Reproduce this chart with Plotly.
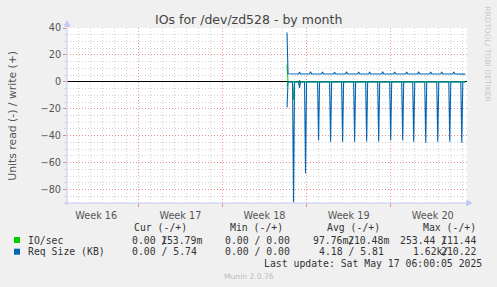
import plotly.graph_objects as go
import pandas as pd

# ---------------- data ----------------
TITLE = "IOs for /dev/zd528 - by month"
Y_TITLE = "Units read (-) / write (+)"

X_START = "2025-04-14 01:40"
X_END = "2025-05-17 08:24"

WEEK_BOUNDS = ["2025-04-20", "2025-04-27", "2025-05-04", "2025-05-11"]
WEEK_MIDS = ["2025-04-16 12:00", "2025-04-23 12:00", "2025-04-30 12:00",
             "2025-05-07 12:00", "2025-05-14 12:00"]
WEEK_LABELS = ["Week 16", "Week 17", "Week 18", "Week 19", "Week 20"]

Y_TICKS = [-80, -60, -40, -20, 0, 20, 40]

# IO/sec write (+)
IO_W_T = ["2025-05-02 09:00", "2025-05-02 11:00", "2025-05-03 08:00",
          "2025-05-03 10:00", "2025-05-03 12:00", "2025-05-17 05:00"]
IO_W_V = [13.0, 0.15, 0.15, 1.2, 0.15, 0.15]

# IO/sec read (-)
IO_R_T = ["2025-05-02 09:00", "2025-05-02 11:00", "2025-05-02 20:00",
          "2025-05-02 22:00", "2025-05-03 00:00", "2025-05-03 08:00",
          "2025-05-03 10:00", "2025-05-03 12:00", "2025-05-17 05:00"]
IO_R_V = [-3.3, 0, 0, -13.0, 0, 0, -2.0, 0, 0]

# Req Size (KB) write (+)
RS_W_T = ["2025-05-02 09:00", "2025-05-02 11:00",
          "2025-05-03 08:00", "2025-05-03 10:00", "2025-05-03 12:00",
          "2025-05-04 06:00", "2025-05-04 08:00", "2025-05-04 10:00",
          "2025-05-05 06:00", "2025-05-05 08:00", "2025-05-05 10:00",
          "2025-05-06 06:00", "2025-05-06 08:00", "2025-05-06 10:00",
          "2025-05-07 06:00", "2025-05-07 08:00", "2025-05-07 10:00",
          "2025-05-08 06:00", "2025-05-08 08:00", "2025-05-08 10:00",
          "2025-05-09 04:00", "2025-05-09 06:00", "2025-05-09 08:00",
          "2025-05-10 06:00", "2025-05-10 08:00", "2025-05-10 10:00",
          "2025-05-11 06:00", "2025-05-11 08:00", "2025-05-11 10:00",
          "2025-05-12 06:00", "2025-05-12 08:00", "2025-05-12 10:00",
          "2025-05-13 06:00", "2025-05-13 08:00", "2025-05-13 10:00",
          "2025-05-14 06:00", "2025-05-14 08:00", "2025-05-14 10:00",
          "2025-05-15 04:00", "2025-05-15 06:00", "2025-05-15 08:00",
          "2025-05-16 04:00", "2025-05-16 06:00", "2025-05-16 08:00",
          "2025-05-17 05:00"]
RS_W_V = [36.6, 6.0,
          5.8, 7.4, 5.8,
          5.8, 7.5, 5.8,
          5.8, 7.3, 5.8,
          5.8, 7.2, 5.8,
          5.8, 7.5, 5.8,
          5.8, 7.4, 5.8,
          5.8, 7.3, 5.8,
          5.8, 7.5, 5.8,
          5.8, 7.4, 5.8,
          5.8, 7.3, 5.8,
          5.8, 7.5, 5.8,
          5.8, 7.4, 5.8,
          5.8, 7.3, 5.8,
          5.8, 7.4, 5.8,
          5.74]

# Req Size (KB) read (-)
RS_R_T = ["2025-05-02 09:00", "2025-05-02 11:00", "2025-05-02 20:00",
          "2025-05-02 22:00", "2025-05-03 00:00", "2025-05-03 08:00",
          "2025-05-03 10:00", "2025-05-03 12:00", "2025-05-03 20:00",
          "2025-05-03 22:00", "2025-05-04 00:00",
          "2025-05-04 22:00", "2025-05-05 00:00", "2025-05-05 02:00",
          "2025-05-05 22:00", "2025-05-06 00:00", "2025-05-06 02:00",
          "2025-05-06 22:00", "2025-05-07 00:00", "2025-05-07 02:00",
          "2025-05-07 22:00", "2025-05-08 00:00", "2025-05-08 02:00",
          "2025-05-08 22:00", "2025-05-09 00:00", "2025-05-09 02:00",
          "2025-05-09 22:00", "2025-05-10 00:00", "2025-05-10 02:00",
          "2025-05-10 22:00", "2025-05-11 00:00", "2025-05-11 02:00",
          "2025-05-11 22:00", "2025-05-12 00:00", "2025-05-12 02:00",
          "2025-05-12 20:00", "2025-05-12 22:00", "2025-05-13 00:00",
          "2025-05-13 20:00", "2025-05-13 22:00", "2025-05-14 00:00",
          "2025-05-14 20:00", "2025-05-14 22:00", "2025-05-15 00:00",
          "2025-05-15 20:00", "2025-05-15 22:00", "2025-05-16 00:00",
          "2025-05-16 20:00", "2025-05-16 22:00", "2025-05-17 00:00",
          "2025-05-17 05:00"]
RS_R_V = [-19.0, 0, 0,
          -89.5, 0, 0,
          -4.5, 0, 0,
          -68.0, 0,
          0, -43.5, 0,
          0, -44.5, 0,
          0, -44.5, 0,
          0, -44.5, 0,
          0, -44.3, 0,
          0, -44.3, 0,
          0, -43.5, 0,
          0, -43.5, 0,
          0, -44.5, 0,
          0, -45.0, 0,
          0, -44.5, 0,
          0, -44.5, 0,
          0, -45.3, 0,
          0]

LEGEND_NAMES = ["IO/sec", "Req Size (KB)"]
GREEN = "#00CC00"
BLUE = "#0066B3"

# ---------------- geometry helpers (pixels -> paper) ----------------
W, H = 497, 287
PL, PR, PT, PB = 67, 467, 28, 203


def px(x):
    return (x - PL) / (PR - PL)


def py(y):
    return (PB - y) / (PB - PT)


MAJOR_GRID = "rgba(235,120,120,0.75)"
MINOR_GRID = "#d4d4d4"
AXIS_COL = "#c4c8f4"
TXT = "#333333"
DASH = "1px,2px"

fig = go.Figure()

fig.add_trace(go.Scatter(x=IO_W_T, y=IO_W_V, mode="lines",
                         line=dict(color=GREEN, width=1), hoverinfo="skip"))
fig.add_trace(go.Scatter(x=IO_R_T, y=IO_R_V, mode="lines",
                         line=dict(color=GREEN, width=1), hoverinfo="skip"))
fig.add_trace(go.Scatter(x=RS_W_T, y=RS_W_V, mode="lines",
                         line=dict(color=BLUE, width=1.1), hoverinfo="skip"))
fig.add_trace(go.Scatter(x=RS_R_T, y=RS_R_V, mode="lines",
                         line=dict(color=BLUE, width=1.1), hoverinfo="skip"))
# invisible trace to carry the week-boundary axis
fig.add_trace(go.Scatter(x=[X_START, X_END], y=[None, None], xaxis="x2",
                         mode="lines", hoverinfo="skip", showlegend=False))

day_vals = [d.strftime("%Y-%m-%d") for d in pd.date_range("2025-04-15", "2025-05-17", freq="D")
            if d.strftime("%Y-%m-%d") not in WEEK_BOUNDS]

fig.update_layout(
    width=W, height=H,
    margin=dict(l=PL, r=W - PR, t=PT, b=H - PB, pad=0),
    paper_bgcolor="#F0F0F0", plot_bgcolor="#FFFFFF",
    showlegend=False,
    font=dict(family="DejaVu Sans", size=9.7, color="#555555"),
    xaxis=dict(type="date", range=[X_START, X_END],
               tickmode="array", tickvals=WEEK_MIDS, ticktext=WEEK_LABELS,
               ticks="outside", ticklen=3, tickcolor="rgba(0,0,0,0)",
               showgrid=False, zeroline=False, showline=False,
               tickfont=dict(family="DejaVu Sans", size=9.7, color="#555555"),
               minor=dict(tickmode="array", tickvals=day_vals, showgrid=True,
                          gridcolor=MINOR_GRID, griddash=DASH, gridwidth=1,
                          ticks="")),
    xaxis2=dict(type="date", range=[X_START, X_END], overlaying="x", anchor="y",
                side="bottom", tickmode="array", tickvals=WEEK_BOUNDS,
                showticklabels=False, ticks="outside", ticklen=3,
                tickcolor="rgba(235,120,120,0.9)", showgrid=True,
                gridcolor=MAJOR_GRID, griddash=DASH, gridwidth=1,
                zeroline=False, showline=False),
    yaxis=dict(range=[-90, 40], tickmode="array", tickvals=Y_TICKS,
               ticks="outside", ticklen=3, tickcolor="rgba(235,120,120,0.9)",
               showgrid=True, gridcolor=MAJOR_GRID, griddash=DASH, gridwidth=1,
               zeroline=True, zerolinecolor="#000000", zerolinewidth=1,
               showline=False,
               tickfont=dict(family="DejaVu Sans", size=9.7, color="#555555"),
               minor=dict(dtick=5, tick0=0, showgrid=True, gridcolor=MINOR_GRID,
                          griddash=DASH, gridwidth=1, ticks="outside", ticklen=2,
                          tickcolor=MINOR_GRID)),
)

shapes = []
# axis lines and arrows
shapes.append(dict(type="line", xref="paper", yref="paper",
                   x0=px(67), x1=px(67), y0=py(205.5), y1=py(24),
                   line=dict(color=AXIS_COL, width=1)))
shapes.append(dict(type="line", xref="paper", yref="paper",
                   x0=px(64.5), x1=px(469), y0=py(203), y1=py(203),
                   line=dict(color=AXIS_COL, width=1)))
shapes.append(dict(type="path", xref="paper", yref="paper",
                   path=f"M {px(63.8)},{py(26.5)} L {px(67)},{py(20.5)} L {px(70.2)},{py(26.5)} Z",
                   fillcolor=AXIS_COL, line=dict(color=AXIS_COL, width=0.5)))
shapes.append(dict(type="path", xref="paper", yref="paper",
                   path=f"M {px(466.5)},{py(199.8)} L {px(472.5)},{py(203)} L {px(466.5)},{py(206.2)} Z",
                   fillcolor=AXIS_COL, line=dict(color=AXIS_COL, width=0.5)))
# legend colour squares
shapes.append(dict(type="rect", xref="paper", yref="paper",
                   x0=px(14), x1=px(20), y0=py(243), y1=py(237),
                   fillcolor=GREEN, line=dict(width=0)))
shapes.append(dict(type="rect", xref="paper", yref="paper",
                   x0=px(14), x1=px(20), y0=py(254.7), y1=py(248.7),
                   fillcolor=BLUE, line=dict(width=0)))
fig.update_layout(shapes=shapes)

MONO = "DejaVu Sans Mono"


def txt(text, x, y, anchor="left", size=9.8, color=TXT, family=MONO, angle=0):
    fig.add_annotation(text=text, x=px(x), y=py(y), xref="paper", yref="paper",
                       xanchor=anchor, yanchor="middle", showarrow=False,
                       textangle=angle, borderpad=0,
                       font=dict(family=family, size=size, color=color))


# title
txt(TITLE, 248.5, 19.5, anchor="center", size=12.5, color="#444444", family="DejaVu Sans")
# y axis title
txt(Y_TITLE, 11.7, 116, anchor="center", size=10.8, color="#555555",
    family="DejaVu Sans", angle=-90)
# rrdtool credit
txt("RRDTOOL/ TOBI OETIKER", 487.5, 54, anchor="center", size=7.6, color="#c8c8c8",
    family="DejaVu Sans", angle=90)

# legend header
txt("Cur (-/+)", 187.5, 227, anchor="right")
txt("Min (-/+)", 284, 227, anchor="right")
txt("Avg (-/+)", 380.5, 227, anchor="right")
txt("Max (-/+)", 477, 227, anchor="right")

# row 1
txt(LEGEND_NAMES[0], 26.7, 240)
txt("0.00 /", 131.3, 240)
txt("153.79m", 203.3, 240, anchor="right")
txt("0.00 / 0.00", 224.3, 240)
txt("97.76m/", 311.7, 240)
txt("210.48m", 390, 240, anchor="right")
txt("253.44 /", 399, 240)
txt("111.44", 477, 240, anchor="right")

# row 2
txt(LEGEND_NAMES[1], 26.7, 251.7)
txt("0.00 / 5.74", 131.3, 251.7)
txt("0.00 / 0.00", 224.3, 251.7)
txt("4.18 / 5.81", 318.3, 251.7)
txt("1.62k/", 412, 251.7)
txt("210.22", 477, 251.7, anchor="right")

txt("Last update: Sat May 17 06:00:05 2025", 483, 263.5, anchor="right")
txt("Munin 2.0.76", 248.5, 276, anchor="center", size=7.6, color="#bbbbbb",
    family="DejaVu Sans")

fig.write_html("out.html")
